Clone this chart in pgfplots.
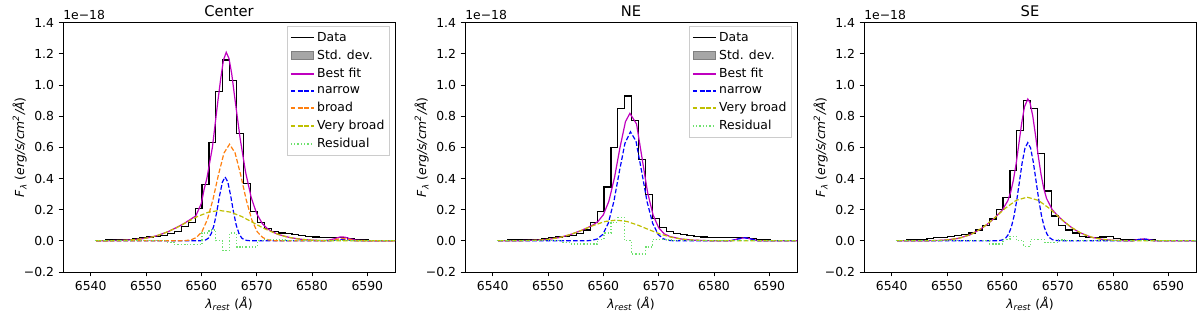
\documentclass[border=0pt]{standalone}
\usepackage{fontspec}
\setmainfont{DejaVu Sans}
\usepackage{pgfplots}
\pgfplotsset{compat=1.18}

\definecolor{fitm}{RGB}{191,0,191}
\definecolor{nblue}{RGB}{0,0,255}
\definecolor{borange}{RGB}{255,127,14}
\definecolor{vbyellow}{RGB}{191,191,0}
\definecolor{resgreen}{RGB}{110,225,110}
\definecolor{legframe}{RGB}{204,204,204}

\newcommand{\smallfont}{\fontsize{9.3}{11}\selectfont}

\pgfplotsset{
  panel/.style={
    scale only axis, width=249pt, height=187pt,
    anchor=south west, clip mode=individual,
    xmin=6535, xmax=6595, ymin=-0.2, ymax=1.4,
    xtick={6540,6550,6560,6570,6580,6590},
    xticklabels={6540,6550,6560,6570,6580,6590},
    ytick={-0.2,0,0.2,0.4,0.6,0.8,1.0,1.2,1.4},
    yticklabels={−0.2,0.0,0.2,0.4,0.6,0.8,1.0,1.2,1.4},
    xtick pos=left, ytick pos=left, tick align=outside,
    major tick length=3.2pt,
    tick style={black, line width=0.6pt},
    axis line style={line width=0.6pt},
    ticklabel style={font=\smallfont},
    label style={font=\smallfont},
    xlabel style={yshift=2pt},
    ylabel style={yshift=-9pt},
    title style={font=\fontsize{11}{13}\selectfont, yshift=-5pt},
    xlabel={\textit{λ}\textsubscript{\textit{rest}} (\textit{Å})},
    ylabel={\textit{F}\textsubscript{\textit{λ}} (\textit{erg/s/cm}\textsuperscript{\textit{2}}\textit{/Å})},
    legend style={at={(0.985,0.985)}, anchor=north east, draw=legframe,
      fill=white, font=\smallfont,
      inner xsep=2pt, inner ysep=2pt, row sep=1.1pt},
    legend cell align=left,
  },
  data/.style={black, line width=0.9pt, const plot mark mid, forget plot},
  fit/.style={fitm, line width=0.9pt, forget plot},
  narrowc/.style={nblue, line width=0.9pt, dash pattern=on 3.5pt off 1.6pt, forget plot},
  broadc/.style={borange, line width=0.9pt, dash pattern=on 3.5pt off 1.6pt, forget plot},
  vbroadc/.style={vbyellow, line width=0.9pt, dash pattern=on 3.5pt off 1.6pt, forget plot},
  resid/.style={resgreen, line width=0.9pt, dash pattern=on 0.9pt off 1.5pt, const plot mark mid, forget plot},
  leg/.style={line width=1.4pt},
}

\begin{document}
\begin{tikzpicture}
\useasboundingbox (0,0) rectangle (900pt,-235.5pt);

% ---------------- Center ----------------
\begin{axis}[panel, at={(47.25pt,-204pt)}, title={Center}]
\node[anchor=south west, inner sep=0pt, font=\smallfont] at (rel axis cs:0,1) [yshift=2pt] {1e−18};
\addplot[data] coordinates {(6540.75,0) (6542.00,0) (6543.25,0.005) (6544.50,0.01) (6545.75,0.01) (6547.00,0.01) (6548.25,0.015) (6549.50,0.02) (6550.75,0.025) (6552.00,0.03) (6553.25,0.035) (6554.50,0.045) (6555.75,0.06) (6557.00,0.09) (6558.25,0.12) (6559.50,0.21) (6560.75,0.36) (6562.00,0.63) (6563.25,0.96) (6564.50,1.16) (6565.75,1.03) (6567.00,0.69) (6568.25,0.37) (6569.50,0.19) (6570.75,0.12) (6572.00,0.08) (6573.25,0.06) (6574.50,0.05) (6575.75,0.045) (6577.00,0.04) (6578.25,0.035) (6579.50,0.03) (6580.75,0.025) (6582.00,0.02) (6583.25,0.02) (6584.50,0.02) (6585.75,0.02) (6587.00,0.015) (6588.25,0.01) (6589.50,0.005) (6590.75,0) (6595.75,0)};
\addplot[fit] coordinates {(6541,0) (6545,0.002) (6548,0.008) (6550,0.017) (6552,0.033) (6554,0.059) (6556,0.094) (6557,0.114) (6558,0.137) (6559,0.16) (6560,0.24) (6560.5,0.33) (6561,0.40) (6562,0.60) (6563,0.90) (6563.5,1.04) (6564,1.16) (6564.5,1.21) (6565,1.17) (6565.5,1.07) (6566,0.93) (6567,0.66) (6568,0.44) (6569,0.28) (6570,0.175) (6571,0.112) (6572,0.076) (6573,0.055) (6574,0.040) (6576,0.021) (6578,0.010) (6580,0.004) (6582,0.002) (6583,0.004) (6584,0.013) (6585,0.024) (6585.5,0.025) (6586,0.023) (6587,0.012) (6588,0.004) (6590,0.001) (6595,0)};
\addplot[narrowc] coordinates {(6541,0) (6559.3,0) (6560.3,0.002) (6560.8,0.006) (6561.3,0.018) (6561.8,0.047) (6562.3,0.102) (6562.8,0.188) (6563.3,0.290) (6563.8,0.376) (6564.3,0.41) (6564.8,0.376) (6565.3,0.290) (6565.8,0.188) (6566.3,0.102) (6566.8,0.047) (6567.3,0.018) (6567.8,0.006) (6568.3,0.002) (6569.3,0) (6583.5,0) (6584.5,0.006) (6585.5,0.01) (6586.5,0.006) (6587.5,0) (6595,0)};
\addplot[broadc] coordinates {(6541,0) (6556.1,0) (6557.1,0.0015) (6558.1,0.006) (6559.1,0.021) (6560.1,0.058) (6561.1,0.137) (6562.1,0.265) (6563.1,0.425) (6564.1,0.564) (6565.1,0.62) (6566.1,0.564) (6567.1,0.425) (6568.1,0.265) (6569.1,0.137) (6570.1,0.058) (6571.1,0.021) (6572.1,0.006) (6573.1,0.0015) (6574.1,0) (6583,0) (6584.5,0.01) (6585.5,0.015) (6586.5,0.01) (6588,0) (6595,0)};
\addplot[vbroadc] coordinates {(6541,0.0002) (6543.3,0.0008) (6545.3,0.0022) (6547.3,0.0056) (6549.3,0.013) (6551.3,0.026) (6553.3,0.049) (6555.3,0.080) (6557.3,0.118) (6559.3,0.156) (6561.3,0.184) (6563.3,0.195) (6565.3,0.184) (6567.3,0.156) (6569.3,0.118) (6571.3,0.080) (6573.3,0.049) (6575.3,0.026) (6577.3,0.013) (6579.3,0.0056) (6581.3,0.0022) (6583.3,0.0008) (6585.3,0.0002) (6595,0)};
\addplot[resid] coordinates {(6540.75,0) (6553.25,0) (6554.50,-0.01) (6555.75,-0.025) (6557.00,-0.025) (6558.25,-0.025) (6559.50,-0.025) (6560.75,0.05) (6562.00,0.07) (6563.25,0.0) (6564.50,-0.06) (6565.75,0.05) (6567.00,-0.04) (6568.25,-0.04) (6569.50,-0.04) (6570.75,0.0) (6572.00,0.01) (6573.25,0.01) (6574.50,0.005) (6575.75,0) (6595.75,0)};
% legend
\addlegendimage{black, leg}
\addlegendentry{Data}
\addlegendimage{area legend, fill=gray!70, draw=gray}
\addlegendentry{Std. dev.}
\addlegendimage{fitm, leg}
\addlegendentry{Best fit}
\addlegendimage{nblue, leg, dash pattern=on 3.5pt off 1.6pt}
\addlegendentry{narrow}
\addlegendimage{borange, leg, dash pattern=on 3.5pt off 1.6pt}
\addlegendentry{broad}
\addlegendimage{vbyellow, leg, dash pattern=on 3.5pt off 1.6pt}
\addlegendentry{Very broad}
\addlegendimage{resgreen, leg, dash pattern=on 1pt off 1.5pt}
\addlegendentry{Residual}
\end{axis}

% ---------------- NE ----------------
\begin{axis}[panel, at={(348.75pt,-204pt)}, title={NE}]
\node[anchor=south west, inner sep=0pt, font=\smallfont] at (rel axis cs:0,1) [yshift=2pt] {1e−18};
\addplot[data] coordinates {(6540.75,0) (6542.00,0) (6543.25,0.005) (6544.50,0.005) (6545.75,0.005) (6547.00,0.01) (6548.25,0.01) (6549.50,0.015) (6550.75,0.02) (6552.00,0.025) (6553.25,0.03) (6554.50,0.035) (6555.75,0.045) (6557.00,0.07) (6558.25,0.12) (6559.50,0.19) (6560.75,0.345) (6562.00,0.60) (6563.25,0.85) (6564.50,0.93) (6565.75,0.77) (6567.00,0.52) (6568.25,0.295) (6569.50,0.145) (6570.75,0.085) (6572.00,0.06) (6573.25,0.045) (6574.50,0.04) (6575.75,0.035) (6577.00,0.03) (6578.25,0.025) (6579.50,0.02) (6580.75,0.02) (6582.00,0.02) (6583.25,0.02) (6584.50,0.02) (6585.75,0.02) (6587.00,0.015) (6588.25,0.01) (6589.50,0.005) (6590.75,0) (6595.75,0)};
\addplot[fit] coordinates {(6541,0) (6545,0.001) (6548,0.004) (6550,0.009) (6552,0.021) (6554,0.040) (6556,0.066) (6557,0.082) (6558,0.099) (6559,0.123) (6560,0.167) (6561,0.254) (6562,0.403) (6563,0.597) (6564,0.765) (6564.8,0.818) (6566,0.75) (6567,0.53) (6568,0.310) (6569,0.165) (6570,0.084) (6571,0.045) (6572,0.028) (6574,0.012) (6576,0.005) (6578,0.002) (6580,0.0005) (6583,0) (6584.3,0.012) (6585.5,0.02) (6586.7,0.012) (6588,0) (6595,0)};
\addplot[narrowc] coordinates {(6541,0) (6556.9,0) (6557.9,0.003) (6558.9,0.012) (6559.9,0.041) (6560.9,0.114) (6561.9,0.252) (6562.9,0.445) (6563.9,0.625) (6564.9,0.70) (6565.9,0.64) (6566.9,0.45) (6567.9,0.252) (6568.9,0.114) (6569.9,0.041) (6570.9,0.012) (6571.9,0.003) (6572.9,0) (6583,0) (6584.3,0.012) (6585.5,0.02) (6586.7,0.012) (6588,0) (6595,0)};
\addplot[vbroadc] coordinates {(6541,0) (6544.3,0.0005) (6546.3,0.0015) (6548.3,0.0043) (6550.3,0.0106) (6552.3,0.023) (6554.3,0.0432) (6556.3,0.0708) (6558.3,0.100) (6560.3,0.124) (6562.3,0.133) (6564.3,0.124) (6566.3,0.100) (6568.3,0.0708) (6570.3,0.0432) (6572.3,0.023) (6574.3,0.0106) (6576.3,0.0043) (6578.3,0.0015) (6580.3,0.0005) (6595,0)};
\addplot[resid] coordinates {(6540.75,0) (6552.00,0) (6553.25,-0.01) (6554.50,-0.02) (6555.75,-0.02) (6557.00,-0.02) (6558.25,-0.02) (6559.50,0.01) (6560.75,0.05) (6562.00,0.12) (6563.25,0.15) (6564.50,0.0) (6565.75,-0.085) (6567.00,-0.085) (6568.25,-0.04) (6569.50,0.01) (6570.75,0.01) (6572.00,0.005) (6573.25,0) (6595.75,0)};
% legend
\addlegendimage{black, leg}
\addlegendentry{Data}
\addlegendimage{area legend, fill=gray!70, draw=gray}
\addlegendentry{Std. dev.}
\addlegendimage{fitm, leg}
\addlegendentry{Best fit}
\addlegendimage{nblue, leg, dash pattern=on 3.5pt off 1.6pt}
\addlegendentry{narrow}
\addlegendimage{vbyellow, leg, dash pattern=on 3.5pt off 1.6pt}
\addlegendentry{Very broad}
\addlegendimage{resgreen, leg, dash pattern=on 1pt off 1.5pt}
\addlegendentry{Residual}
\end{axis}

% ---------------- SE ----------------
\begin{axis}[panel, at={(648pt,-204pt)}, title={SE}]
\node[anchor=south west, inner sep=0pt, font=\smallfont] at (rel axis cs:0,1) [yshift=2pt] {1e−18};
\addplot[data] coordinates {(6540.75,0) (6542.00,0) (6543.25,0.005) (6544.50,0.005) (6545.75,0.01) (6547.00,0.015) (6548.25,0.02) (6549.50,0.02) (6550.75,0.03) (6552.00,0.035) (6553.25,0.04) (6554.50,0.05) (6555.75,0.07) (6557.00,0.10) (6558.25,0.14) (6559.50,0.20) (6560.75,0.28) (6562.00,0.45) (6563.25,0.71) (6564.50,0.90) (6565.75,0.85) (6567.00,0.56) (6568.25,0.32) (6569.50,0.16) (6570.75,0.10) (6572.00,0.07) (6573.25,0.05) (6574.50,0.03) (6575.75,0.02) (6577.00,0.02) (6578.25,0.025) (6579.50,0.03) (6580.75,0.015) (6582.00,0.005) (6583.25,0.005) (6584.50,0.01) (6585.75,0.01) (6587.00,0.005) (6588.25,0) (6595.75,0)};
\addplot[fit] coordinates {(6541,0) (6545,0.0002) (6548,0.0018) (6550,0.0057) (6552,0.0155) (6554,0.0363) (6556,0.0735) (6557,0.0988) (6558,0.128) (6559,0.161) (6560,0.198) (6561,0.258) (6561.5,0.311) (6562,0.390) (6562.5,0.496) (6563,0.626) (6563.5,0.756) (6564,0.860) (6564.6,0.91) (6565,0.887) (6565.5,0.801) (6566,0.677) (6566.5,0.542) (6567,0.425) (6567.5,0.334) (6568,0.271) (6569,0.201) (6570,0.161) (6571,0.128) (6572,0.0988) (6573,0.0735) (6574,0.0527) (6576,0.0242) (6578,0.0096) (6580,0.0033) (6582,0.0009) (6583.5,0.0003) (6584.5,0.008) (6585.5,0.012) (6586.5,0.008) (6587.5,0) (6595,0)};
\addplot[narrowc] coordinates {(6541,0) (6558.6,0.0002) (6559.6,0.0024) (6560.1,0.007) (6560.6,0.018) (6561.1,0.041) (6561.6,0.085) (6562.1,0.157) (6562.6,0.259) (6563.1,0.382) (6563.6,0.505) (6564.1,0.596) (6564.6,0.63) (6565.1,0.596) (6565.6,0.505) (6566.1,0.382) (6566.6,0.259) (6567.1,0.157) (6567.6,0.085) (6568.1,0.041) (6568.6,0.018) (6569.1,0.007) (6569.6,0.0024) (6570.6,0.0002) (6583.5,0) (6584.5,0.008) (6585.5,0.012) (6586.5,0.008) (6587.5,0) (6595,0)};
\addplot[vbroadc] coordinates {(6541,0) (6542.5,0.0001) (6544.5,0.0002) (6546.5,0.0007) (6548.5,0.0024) (6550.5,0.0074) (6552.5,0.0195) (6554.5,0.044) (6556.5,0.0857) (6558.5,0.1436) (6560.5,0.208) (6562.5,0.260) (6564.5,0.28) (6566.5,0.260) (6568.5,0.208) (6570.5,0.1436) (6572.5,0.0857) (6574.5,0.044) (6576.5,0.0195) (6578.5,0.0074) (6580.5,0.0024) (6582.5,0.0007) (6584.5,0.0002) (6595,0)};
\addplot[resid] coordinates {(6540.75,0) (6557.00,0) (6558.25,-0.02) (6559.50,-0.02) (6560.75,0.01) (6562.00,0.03) (6563.25,0.0) (6564.50,-0.035) (6565.75,0.01) (6567.00,0.01) (6568.25,-0.01) (6569.50,-0.01) (6570.75,0.005) (6572.00,0) (6595.75,0)};
\end{axis}
\end{tikzpicture}
\end{document}
